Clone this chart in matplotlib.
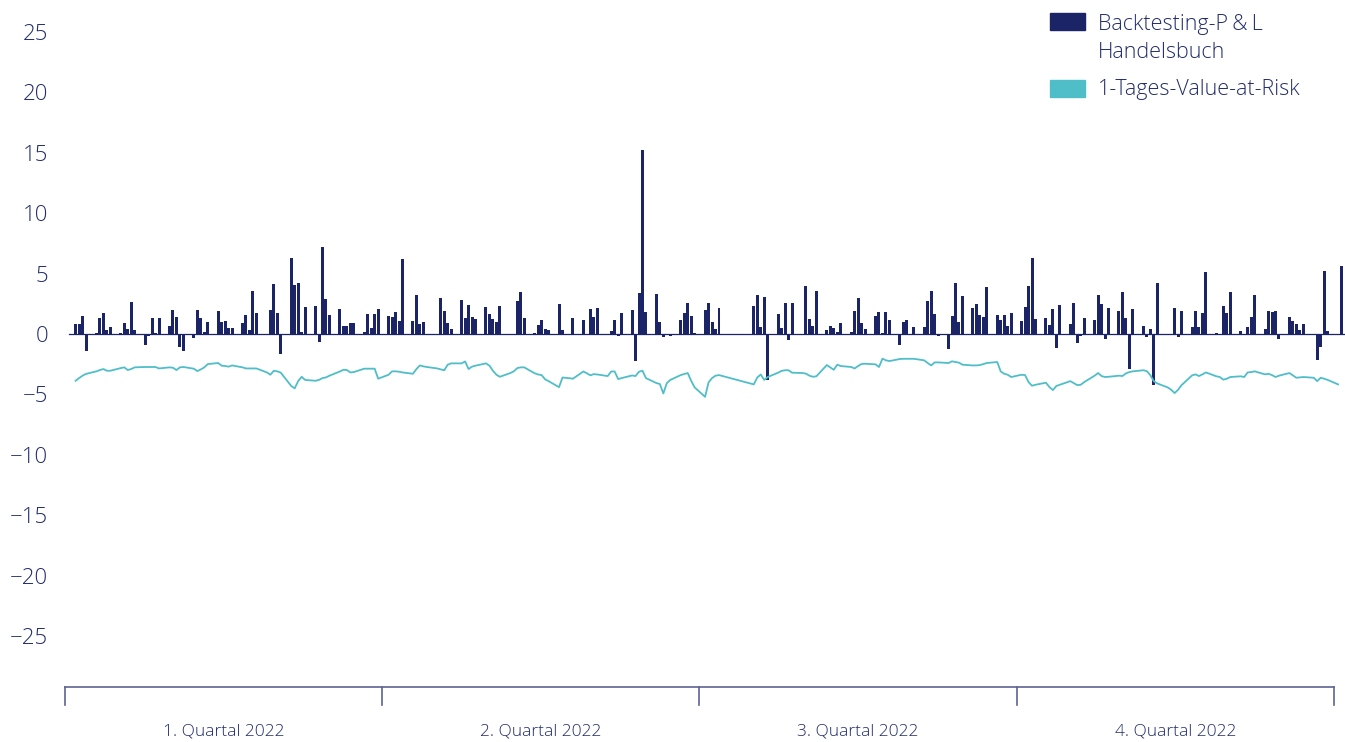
import numpy as np
import matplotlib
matplotlib.use("Agg")
import matplotlib.pyplot as plt
from matplotlib.patches import Rectangle
import matplotlib.transforms as mtransforms

# daily P&L per week (Mon..Fri), in EUR m
pnl_weeks = [
    [0, 0.86, 0.86, 1.52, -1.44],
    [0.1, 1.35, 1.7, 0.35, 0.6],
    [0.05, 0.94, 0.44, 2.68, 0.36],
    [-0.88, -0.14, 1.35, 0.1, 1.35],
    [0.69, 2.0, 1.44, -1.05, -1.38],
    [-0.3, 2.0, 1.35, 0.2, 1.0],
    [1.93, 1.0, 1.1, 0.5, 0.5],
    [0.94, 1.6, 0.36, 3.6, 1.77],
    [0, 2.0, 4.17, 1.77, -1.66],
    [6.33, 4.09, 4.25, 0.2, 2.27],
    [2.35, -0.66, 7.24, 2.93, 1.6],
    [2.1, 0.69, 0.69, 0.94, 0.94],
    [0.2, 1.69, 0.52, 1.69, 2.1],
    [1.52, 1.44, 1.85, 1.1, 6.24],
    [1.1, 3.26, 0.86, 1.0, 0],
    [0, 3.0, 1.93, 0.94, 0.44],
    [2.85, 1.35, 2.43, 1.44, 1.27],
    [2.27, 1.69, 1.27, 1.0, 2.35],
    [0, 0, 2.76, 3.5, 1.35],
    [0.1, 0.77, 1.19, 0.44, 0.36],
    [2.51, 0.36, 0, 0, 1.35],
    [1.19, 0, 2.1, 1.44, 2.18],
    [0, 0.28, 1.19, -0.14, 1.77],
    [2.02, -2.2, 3.43, 15.2, 1.85],
    [3.34, 1.02, -0.22, 0, -0.14],
    [1.19, 1.77, 2.6, 1.52, 0.11],
    [2.0, 2.6, 1.02, 0.44, 2.18],
    [0, 0, 0, 0, 0],
    [2.35, 3.26, 0.61, 3.09, -3.78],
    [1.69, 0.52, 2.6, -0.47, 2.6],
    [0, 4.0, 1.27, 0.69, 3.6],
    [0.36, 0.69, 0.52, 0.19, 0.94],
    [0.19, 1.93, 3.0, 0.94, 0.44],
    [1.52, 1.85, 0.1, 1.85, 1.19],
    [-0.88, 1.02, 1.19, 0, 0.61],
    [0.61, 2.76, 3.6, 1.69, -0.14],
    [-1.22, 1.52, 4.25, 1.02, 3.18],
    [2.18, 2.51, 1.6, 1.44, 3.92],
    [1.6, 1.19, 1.6, 0.69, 1.77],
    [1.1, 2.27, 4.0, 6.33, 1.27],
    [1.35, 0.77, 2.1, -1.13, 2.43],
    [0.86, 2.6, -0.72, -0.14, 1.35],
    [1.19, 3.26, 2.51, -0.39, 2.18],
    [1.93, 3.5, 1.35, -2.87, 2.1],
    [0.69, -0.22, 0.44, -4.2, 4.25],
    [0, 0, 2.18, -0.22, 1.93],
    [0.61, 1.93, 0.61, 1.77, 5.17],
    [0.11, 0, 2.35, 1.77, 3.5],
    [0.28, 0, 0.61, 1.44, 3.26],
    [0.44, 1.93, 1.85, 1.93, -0.39],
    [1.44, 1.1, 0.86, 0.36, 0.86],
    [0, -2.13, -1.05, 5.25, 0.28],
    [0, 5.66],
]

# 1-day VaR per week (Mon..Fri), nan = no value
nan = np.nan
var_weeks = [
    [nan, -3.87, -3.65, -3.45, -3.3],
    [-3.09, -2.98, -2.9, -3.04, -3.04],
    [-2.82, -2.76, -2.98, -2.9, -2.76],
    [-2.73, -2.73, -2.73, -2.73, -2.85],
    [-2.76, -2.79, -2.98, -2.76, -2.73],
    [-2.87, -3.07, -2.93, -2.76, -2.49],
    [-2.4, -2.62, -2.65, -2.7, -2.6],
    [-2.76, -2.85, -2.85, -2.85, -2.85],
    [-3.18, -3.37, -3.04, -3.09, -3.2],
    [-4.3, -4.5, -3.9, -3.54, -3.8],
    [-3.87, -3.8, -3.65, -3.59, -3.45],
    [-3.1, -2.96, -2.98, -3.18, -3.15],
    [-2.87, -2.87, -2.87, -2.87, -3.7],
    [-3.37, -3.09, -3.09, -3.12, -3.18],
    [-3.29, -2.9, -2.6, -2.68, -2.73],
    [-2.85, -2.93, -3.0, -2.54, -2.43],
    [-2.43, -2.27, -2.9, -2.7, -2.62],
    [-2.43, -2.62, -3.04, -3.37, -3.54],
    [-3.23, -3.09, -2.82, -2.76, -2.76],
    [-3.25, -3.35, -3.4, -3.75, -3.9],
    [-4.4, -3.6, -3.63, -3.66, -3.7],
    [-3.1, -3.25, -3.42, -3.32, -3.35],
    [-3.48, -3.1, -3.1, -3.73, -3.65],
    [-3.43, -3.48, -3.12, -3.04, -3.65],
    [-4.06, -4.14, -4.92, -4.06, -3.8],
    [-3.4, -3.31, -3.23, -3.87, -4.42],
    [-5.2, -4.0, -3.65, -3.45, -3.4],
    [nan, nan, nan, nan, nan],
    [-4.17, -3.6, -3.35, -3.8, -3.56],
    [-3.2, -3.05, -3.0, -3.0, -3.2],
    [-3.23, -3.28, -3.45, -3.54, -3.5],
    [-2.57, -2.76, -2.96, -2.54, -2.65],
    [-2.73, -2.85, -2.65, -2.48, -2.46],
    [-2.51, -2.73, -2.04, -2.18, -2.24],
    [-2.07, -2.05, -2.05, -2.05, -2.05],
    [-2.18, -2.4, -2.6, -2.35, -2.35],
    [-2.4, -2.26, -2.32, -2.37, -2.54],
    [-2.6, -2.6, -2.57, -2.49, -2.4],
    [-2.32, -3.1, -3.29, -3.37, -3.56],
    [-3.37, -3.4, -3.98, -4.28, -4.2],
    [-4.03, -4.39, -4.64, -4.3, -4.2],
    [-3.9, -4.06, -4.23, -4.2, -3.98],
    [-3.45, -3.23, -3.48, -3.56, -3.54],
    [-3.45, -3.48, -3.26, -3.15, -3.09],
    [-3.0, -3.07, -3.4, -3.9, -4.09],
    [-4.42, -4.61, -4.89, -4.61, -4.23],
    [-3.43, -3.34, -3.48, -3.34, -3.18],
    [-3.5, -3.56, -3.78, -3.7, -3.56],
    [-3.5, -3.56, -3.18, -3.15, -3.09],
    [-3.34, -3.29, -3.4, -3.56, -3.45],
    [-3.23, -3.43, -3.62, -3.59, -3.56],
    [-3.62, -3.9, -3.62, -3.7, -3.8],
    [-4.17],
]

quarters = ["1. Quartal 2022", "2. Quartal 2022", "3. Quartal 2022", "4. Quartal 2022"]
yticks = [25, 20, 15, 10, 5, 0, -5, -10, -15, -20, -25]
label_pnl = "Backtesting-P\u2009&\u2009L\nHandelsbuch"
label_var = "1-Tages-Value-at-Risk"

navy = "#1b2466"
teal = "#50bec8"
txt = "#212c6c"
bracket_col = "#5d6494"

plt.rcParams["font.family"] = ["Open Sans", "DejaVu Sans"]
plt.rcParams["font.weight"] = "light"

# calendar slots: week*7 + weekday
x_pnl, y_pnl = [], []
for w, vals in enumerate(pnl_weeks):
    for d, v in enumerate(vals):
        x_pnl.append(w * 7 + d)
        y_pnl.append(v)
x_var, y_var = [], []
for w, vals in enumerate(var_weeks):
    for d, v in enumerate(vals):
        if not np.isnan(v):
            x_var.append(w * 7 + d)
            y_var.append(v)

fig = plt.figure(figsize=(13.45, 7.42), dpi=100)
ax = fig.add_axes([65 / 1345, 1 - 687 / 742, 1280 / 1345, 687 / 742])

x0 = -2.04
x1 = x0 + 1280 / 3.478
ax.set_xlim(x0, x1)
ax.set_ylim(-29.22, 27.65)

ax.bar(x_pnl, y_pnl, width=0.86, color=navy, linewidth=0, zorder=3)
ax.axhline(0, xmin=4 / 1280, xmax=1, color=navy, lw=0.9, zorder=2)
ax.plot(x_var, y_var, color=teal, lw=1.3, zorder=4)

for s in ax.spines.values():
    s.set_visible(False)
ax.set_xticks([])
ax.set_yticks(yticks)
ax.set_yticklabels([f"\u2212{abs(t)}" if t < 0 else str(t) for t in yticks])
ax.tick_params(axis="y", length=0, pad=12, labelsize=16, labelcolor=txt)

# quarter bracket at the bottom
trans = mtransforms.blended_transform_factory(ax.transData, ax.transAxes)
b_end = x0 + 1269 / 3.478
q_len = (b_end - x0) / 4
tick_h = 18 / 687
ax.plot([x0, b_end], [0, 0], color=bracket_col, lw=1.2, transform=trans, clip_on=False)
for i in range(5):
    xb = x0 + i * q_len
    ax.plot([xb, xb], [0, -tick_h], color=bracket_col, lw=1.2, transform=trans, clip_on=False)
for i, q in enumerate(quarters):
    ax.text(x0 + (i + 0.5) * q_len, -44 / 687, q, transform=trans, ha="center", va="center",
            fontsize=12.5, color=txt)

# legend
fig.patches.append(Rectangle((1050 / 1345, 1 - 30 / 742), 35 / 1345, 17 / 742,
                             transform=fig.transFigure, color=navy))
fig.patches.append(Rectangle((1050 / 1345, 1 - 97 / 742), 35 / 1345, 17 / 742,
                             transform=fig.transFigure, color=teal))
fig.text(1098 / 1345, 1 - 14 / 742, label_pnl, ha="left", va="top", fontsize=15.5,
         color=txt, linespacing=1.45)
fig.text(1098 / 1345, 1 - 89 / 742, label_var, ha="left", va="center", fontsize=15.5,
         color=txt)

fig.savefig("out.png", dpi=100)
